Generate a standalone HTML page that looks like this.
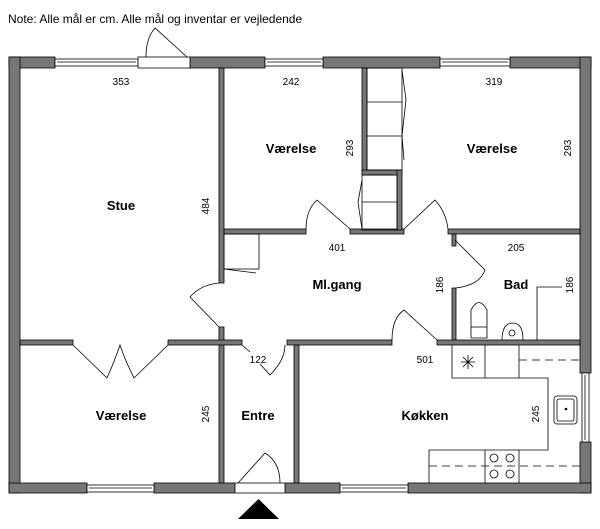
<!DOCTYPE html>
<html><head><meta charset="utf-8"><style>
html,body{margin:0;padding:0;background:#fff}
svg{display:block}
text{font-family:"Liberation Sans",sans-serif;fill:#000}
.b{font-weight:bold;font-size:13px}
.s{font-size:10px}
</style></head><body>
<svg width="600" height="529" viewBox="0 0 600 529" xmlns="http://www.w3.org/2000/svg">
<text x="8" y="23" font-size="12">Note: Alle mål er cm. Alle mål og inventar er vejledende</text>
<g fill="#777" stroke="#000" stroke-width="0.8">
<!-- outer walls -->
<rect x="9" y="57" width="46" height="11"/>
<rect x="190" y="57" width="75" height="11"/>
<rect x="323" y="57" width="117" height="11"/>
<rect x="510" y="57" width="81" height="11"/>
<rect x="9" y="57" width="11" height="436"/>
<rect x="580" y="57" width="11" height="316"/>
<rect x="580" y="442" width="11" height="51"/>
<rect x="9" y="483" width="78" height="10"/>
<rect x="154" y="483" width="81" height="10"/>
<rect x="285" y="483" width="55" height="10"/>
<rect x="408" y="483" width="183" height="10"/>
<!-- interior -->
<rect x="219" y="68" width="5" height="215"/>
<rect x="219" y="327" width="5" height="156"/>
<rect x="224" y="229" width="82" height="5"/>
<rect x="350" y="229" width="54" height="5"/>
<rect x="448" y="229" width="132" height="5"/>
<rect x="362" y="68" width="5" height="103"/>
<rect x="362" y="170" width="40" height="5"/>
<rect x="397" y="170" width="5" height="60"/>
<rect x="452" y="234" width="4" height="12"/>
<rect x="452" y="288" width="4" height="54"/>
<rect x="20" y="340" width="53" height="5"/>
<rect x="168" y="340" width="74" height="5"/>
<rect x="287" y="340" width="105" height="5"/>
<rect x="437" y="340" width="143" height="5"/>
<rect x="294" y="345" width="5" height="138"/>
</g>
<g fill="#fff" stroke="#000" stroke-width="0.8">
<!-- windows -->
<rect x="55" y="59" width="83" height="7"/><line x1="57" y1="62" x2="136" y2="62"/>
<rect x="265" y="59" width="58" height="7"/><line x1="267" y1="62" x2="321" y2="62"/>
<rect x="440" y="59" width="70" height="7"/><line x1="442" y1="62" x2="508" y2="62"/>
<rect x="87" y="485" width="67" height="7"/><line x1="89" y1="488" x2="152" y2="488"/>
<rect x="340" y="485" width="68" height="7"/><line x1="342" y1="488" x2="406" y2="488"/>
<rect x="582" y="373" width="7" height="69"/><line x1="585" y1="375" x2="585" y2="440"/>
<rect x="235" y="483" width="50" height="10"/>
<rect x="138" y="57" width="52" height="11"/>
</g>
<g fill="none" stroke="#000" stroke-width="0.8">
<!-- doors -->
<path d="M146 57 Q146 38 155 28 L187 57"/>
<path d="M306 229 Q306 210 317 200 L350 229"/>
<path d="M404 229 L435 200 Q446 212 448 229"/>
<path d="M455 240 L485 270 Q480 285 456 288"/>
<path d="M219 283 Q200 285 190 297 L219 327"/>
<path d="M73 345 L107 378 Q115 360 120 345 Q125 360 134 378 L168 345"/>
<path d="M242 345 L250 352 M260 364 L270 375 Q285 360 285 345"/>
<path d="M392 340 Q392 318 404 310 L437 340"/>
<path d="M238 483 L265 453 Q280 462 280 483"/>
<!-- closets -->
<rect x="367" y="68" width="35" height="102"/>
<line x1="367" y1="102" x2="402" y2="102"/><line x1="367" y1="136" x2="402" y2="136"/>
<path d="M402 70 L406 100 L402 136 L404 160"/>
<rect x="362" y="175" width="35" height="55"/>
<line x1="362" y1="202" x2="397" y2="202"/>
<path d="M362 180 L358 202 L362 229"/>
<rect x="224" y="234" width="35" height="35"/>
<line x1="224" y1="269" x2="256" y2="273"/>
<!-- bad -->
<path d="M537 340 L537 287 L562 287"/>
<path d="M471 338 L471 310 Q479 295 487 310 L487 338 Z"/>
<line x1="471" y1="327" x2="487" y2="327"/>
<path d="M502 340 Q502 323 513 323 Q523 323 523 340"/>
<circle cx="512" cy="333" r="3"/>
<!-- kitchen -->
<path d="M452 345 L452 378 L548 378 L548 450 L429 450 L429 483"/>
<line x1="485" y1="345" x2="485" y2="378"/><line x1="519" y1="345" x2="519" y2="378"/>
<line x1="519" y1="360" x2="580" y2="360" stroke-dasharray="8,5"/>
<line x1="429" y1="466" x2="580" y2="466" stroke-dasharray="8,5"/>
<line x1="485" y1="450" x2="485" y2="483"/><line x1="519" y1="450" x2="519" y2="483"/>
<circle cx="494" cy="458" r="4"/><circle cx="510" cy="458" r="4"/>
<circle cx="494" cy="474" r="4"/><circle cx="510" cy="474" r="4"/>
<path d="M461 362 L475 362 M468 355 L468 369 M463 357 L473 367 M473 357 L463 367"/>
<rect x="554" y="396" width="23" height="28" rx="3"/>
<rect x="557" y="399" width="17" height="22" rx="2"/>
<!-- bad dimension line -->
</g>
<circle cx="566" cy="409" r="1.3"/>
<polygon points="238,519 279,519 258.5,499" fill="#000"/>
<g class="s" text-anchor="middle">
<text x="121" y="85">353</text><text x="291" y="85">242</text><text x="494" y="85">319</text>
<text x="337" y="251">401</text><text x="516" y="251">205</text>
<text x="258" y="363">122</text><text x="425" y="363">501</text>
<text transform="translate(353,148) rotate(-90)">293</text>
<text transform="translate(571,148) rotate(-90)">293</text>
<text transform="translate(209,206) rotate(-90)">484</text>
<text transform="translate(443,285) rotate(-90)">186</text>
<text transform="translate(573,285) rotate(-90)">186</text>
<text transform="translate(209,414) rotate(-90)">245</text>
<text transform="translate(539,414) rotate(-90)">245</text>
</g>
<g class="b" text-anchor="middle">
<text x="291" y="153">Værelse</text><text x="492" y="153">Værelse</text>
<text x="121" y="210">Stue</text><text x="337" y="289">Ml.gang</text><text x="516" y="289">Bad</text>
<text x="121" y="420">Værelse</text><text x="258" y="420">Entre</text><text x="425" y="420">Køkken</text>
</g>
</svg>
</body></html>
